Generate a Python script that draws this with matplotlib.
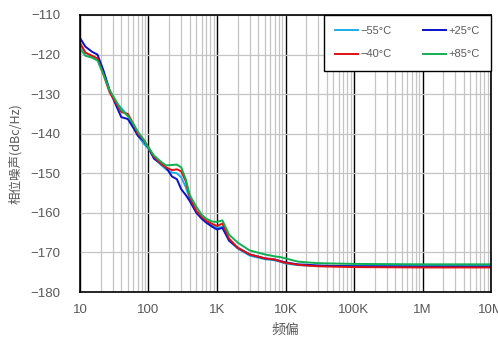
import matplotlib.pyplot as plt
from matplotlib.ticker import FixedLocator, FixedFormatter, LogLocator, NullFormatter

plt.rcParams['font.family'] = ['Liberation Sans', 'Noto Sans CJK SC', 'DejaVu Sans']

freq = [10, 12, 15, 18, 22, 27, 33, 40, 50, 60, 70, 85, 100, 120, 150, 180, 220,
        260, 300, 350, 400, 500, 600, 700, 850, 1000, 1200, 1500, 2000, 3000, 5000,
        7000, 8500, 10000, 15000, 20000, 30000, 50000, 100000, 1e6, 1e7]

m55 = [-117.5, -119.5, -120.5, -121, -124.5, -129, -132, -133.5, -135.5, -138, -140.5,
       -142.5, -143.8, -146, -147.8, -149, -149.8, -150, -151, -153.5, -156.5, -159.8,
       -161.3, -162.3, -163.3, -163.8, -163.5, -167, -169, -170.8, -171.7, -172, -172.4,
       -172.8, -173.2, -173.3, -173.4, -173.4, -173.4, -173.4, -173.4]
m40 = [-117, -119.5, -120.3, -121, -125, -129.5, -132, -134.5, -135, -137.5, -140,
       -141.5, -143.5, -145.8, -147.5, -148.5, -149.2, -149, -149.5, -152, -156, -159.5,
       -161, -162, -162.8, -163.3, -162.7, -166.5, -168.8, -170.5, -171.5, -171.8, -172.3,
       -172.6, -173.1, -173.3, -173.5, -173.6, -173.7, -173.8, -173.8]
p25 = [-115.8, -118, -119.3, -120, -124, -129, -132.5, -135.8, -136.3, -138.5, -140.5,
       -141.8, -143.5, -146.3, -147.5, -148.5, -150.8, -151.5, -154, -155.5, -157, -160,
       -161.5, -162.5, -163.5, -164.2, -163.8, -167, -168.8, -170.5, -171.5, -171.8, -172.2,
       -172.5, -173, -173.1, -173.3, -173.4, -173.5, -173.6, -173.6]
p85 = [-118.5, -120.3, -120.8, -121.5, -125, -129, -131.5, -134, -135.5, -137.5, -139.5,
       -141.5, -143.5, -145.5, -147, -148, -147.9, -147.8, -148.5, -151.5, -155.5, -158.5,
       -160.5, -161.5, -162.2, -162.3, -161.9, -165.5, -167.5, -169.5, -170.5, -171, -171.2,
       -171.5, -172.3, -172.5, -172.7, -172.8, -172.9, -173.0, -173.0]

xticks = [10, 100, 1000, 1e4, 1e5, 1e6, 1e7]
xlabels = ['10', '100', '1K', '10K', '100K', '1M', '10M']
yticks = list(range(-180, -109, 10))

grey = '#595959'
fig = plt.figure(figsize=(4.98, 3.39), dpi=100)
ax = fig.add_axes([0.1606, 0.1386, 0.8254, 0.8172])

l55, = ax.semilogx(freq, m55, color='#1aaee6', lw=1.4, label='−55°C')
l25, = ax.semilogx(freq, p25, color='#0a10c8', lw=1.4, label='+25°C')
l40, = ax.semilogx(freq, m40, color='#e01010', lw=1.4, label='−40°C')
l85, = ax.semilogx(freq, p85, color='#10b050', lw=1.4, label='+85°C')

ax.set_xlim(10, 1e7)
ax.set_ylim(-180, -110)
ax.xaxis.set_major_locator(FixedLocator(xticks))
ax.xaxis.set_major_formatter(FixedFormatter(xlabels))
ax.xaxis.set_minor_locator(LogLocator(base=10, subs=range(2, 10), numticks=20))
ax.xaxis.set_minor_formatter(NullFormatter())
ax.set_yticks(yticks)
ax.set_yticklabels([str(v).replace('-', '−') for v in yticks])

ax.grid(True, which='major', axis='x', color='black', lw=1.0)
ax.grid(True, which='minor', axis='x', color='#c4c4c4', lw=0.9)
ax.grid(True, which='major', axis='y', color='#c4c4c4', lw=0.9)
ax.set_axisbelow(True)
ax.tick_params(which='both', length=0, labelsize=9.5, labelcolor=grey)
ax.tick_params(axis='x', pad=8.5)
ax.tick_params(axis='y', pad=14)
for s in ax.spines.values():
    s.set_color('black')
    s.set_linewidth(1.2)

ax.set_xlabel('频偏', fontsize=10, color=grey, labelpad=5,
              family=['Noto Sans CJK SC', 'DejaVu Sans'])
ax.set_ylabel('相位噪声(dBc/Hz)', fontsize=9, color=grey, labelpad=6,
              family=['Noto Sans CJK SC', 'DejaVu Sans'])

leg = ax.legend(handles=[l55, l40, l25, l85], ncol=2, loc='upper right',
                bbox_to_anchor=(1.0, 1.0), fontsize=8, frameon=True, fancybox=False,
                borderaxespad=0, handlelength=2.1, handletextpad=0.2,
                columnspacing=2.8, labelspacing=1.2, borderpad=1.0, labelcolor=grey)
leg.get_frame().set_edgecolor('black')
leg.get_frame().set_linewidth(1.0)
leg.get_frame().set_alpha(1)

fig.savefig('out.png', dpi=100)
